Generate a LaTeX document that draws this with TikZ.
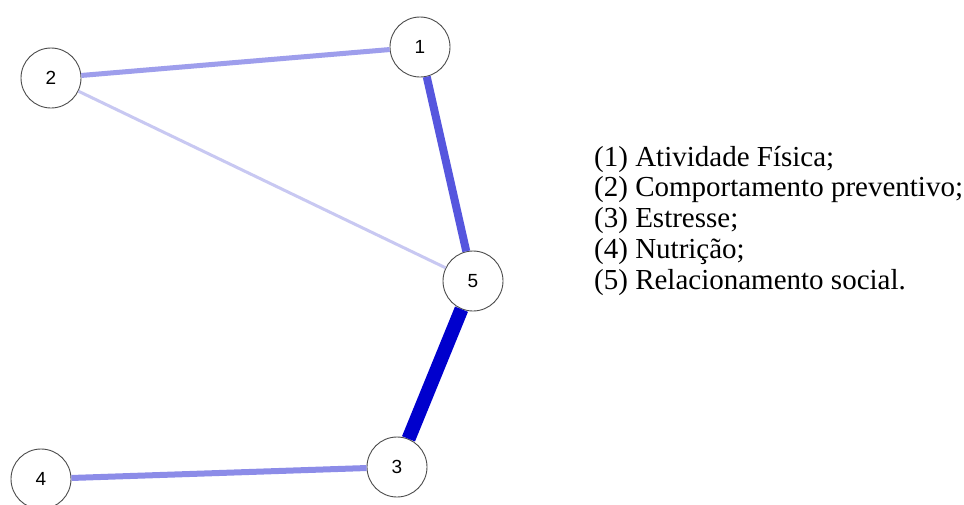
\documentclass[tikz,border=0pt]{standalone}
\usepackage{fontspec}
\setmainfont{Liberation Serif}
\newfontfamily\nodefont{Liberation Sans}
\begin{document}
\begin{tikzpicture}[x=1pt,y=-1pt,
  vertex/.style={circle,draw=black!70,line width=0.9pt,fill=white,
    minimum size=60pt,inner sep=0pt,font=\nodefont\fontsize{19}{21}\selectfont},
  edge/.style={line cap=butt},
  legendline/.style={anchor=base west,inner sep=0pt,
    font=\fontsize{29}{31}\selectfont}]
\useasboundingbox (0,0) rectangle (964,504);
\fill[white] (0,0) rectangle (964,504);
\definecolor{wA}{RGB}{158,158,236}
\definecolor{wB}{RGB}{200,200,242}
\definecolor{wC}{RGB}{86,86,222}
\definecolor{wD}{RGB}{0,0,205}
\definecolor{wE}{RGB}{140,140,232}
% network nodes
\node[vertex] (n1) at (420,47)  {1};
\node[vertex] (n2) at (51,78)   {2};
\node[vertex] (n5) at (473,281) {5};
\node[vertex] (n3) at (397,467) {3};
\node[vertex] (n4) at (41,479)  {4};
% weighted edges, drawn below the nodes
\draw[edge,wA,line width=5pt]  (n2) -- (n1);
\draw[edge,wB,line width=3pt]  (n2) -- (n5);
\draw[edge,wC,line width=8pt]  (n1) -- (n5);
\draw[edge,wD,line width=14pt] (n5) -- (n3);
\draw[edge,wE,line width=6pt]  (n4) -- (n3);
% legend
\node[legendline] (l1) at (594,166)    {(1) Atividade Física;};
\node[legendline] (l2) at (594,196.75) {(2) Comportamento preventivo;};
\node[legendline] (l3) at (594,227.5)  {(3) Estresse;};
\node[legendline] (l4) at (594,258.25) {(4) Nutrição;};
\node[legendline] (l5) at (594,289)    {(5) Relacionamento social.};
\end{tikzpicture}
\end{document}
